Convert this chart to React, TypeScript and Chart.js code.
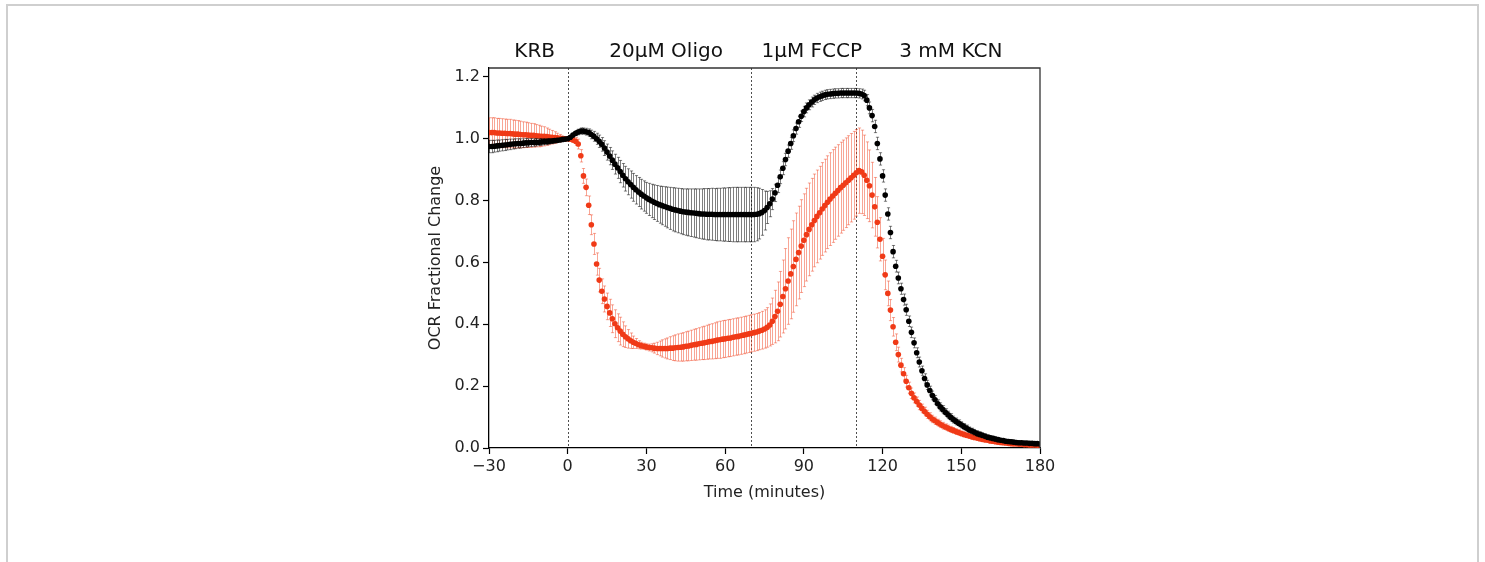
import React, { useEffect, useRef } from 'react';
import { Chart, registerables } from 'chart.js';

Chart.register(...registerables);

const times = [
  -30, -29, -28, -27, -26, -25, -24, -23, -22, -21, -20, -19, -18, -17, -16, -15, -14, -13, -12, -11,
  -10, -9, -8, -7, -6, -5, -4, -3, -2, -1, 0, 1, 2, 3, 4, 5, 6, 7, 8, 9,
  10, 11, 12, 13, 14, 15, 16, 17, 18, 19, 20, 21, 22, 23, 24, 25, 26, 27, 28, 29,
  30, 31, 32, 33, 34, 35, 36, 37, 38, 39, 40, 41, 42, 43, 44, 45, 46, 47, 48, 49,
  50, 51, 52, 53, 54, 55, 56, 57, 58, 59, 60, 61, 62, 63, 64, 65, 66, 67, 68, 69,
  70, 71, 72, 73, 74, 75, 76, 77, 78, 79, 80, 81, 82, 83, 84, 85, 86, 87, 88, 89,
  90, 91, 92, 93, 94, 95, 96, 97, 98, 99, 100, 101, 102, 103, 104, 105, 106, 107, 108, 109,
  110, 111, 112, 113, 114, 115, 116, 117, 118, 119, 120, 121, 122, 123, 124, 125, 126, 127, 128, 129,
  130, 131, 132, 133, 134, 135, 136, 137, 138, 139, 140, 141, 142, 143, 144, 145, 146, 147, 148, 149,
  150, 151, 152, 153, 154, 155, 156, 157, 158, 159, 160, 161, 162, 163, 164, 165, 166, 167, 168, 169,
  170, 171, 172, 173, 174, 175, 176, 177, 178, 179, 180,
];

const blackMean = [
  0.975, 0.975, 0.976, 0.977, 0.978, 0.979, 0.980, 0.981, 0.982, 0.983,
  0.984, 0.985, 0.985, 0.986, 0.987, 0.987, 0.988, 0.988, 0.989, 0.989,
  0.990, 0.991, 0.991, 0.992, 0.993, 0.994, 0.995, 0.996, 0.998, 0.999,
  1.000, 1.005, 1.012, 1.018, 1.022, 1.025, 1.025, 1.023, 1.020, 1.014,
  1.008, 1.000, 0.992, 0.982, 0.970, 0.957, 0.944, 0.931, 0.918, 0.906,
  0.894, 0.882, 0.871, 0.861, 0.852, 0.843, 0.835, 0.828, 0.821, 0.815,
  0.809, 0.804, 0.799, 0.795, 0.791, 0.787, 0.784, 0.781, 0.778, 0.775,
  0.772, 0.770, 0.768, 0.766, 0.764, 0.763, 0.762, 0.761, 0.760, 0.759,
  0.758, 0.757, 0.757, 0.756, 0.756, 0.756, 0.755, 0.755, 0.755, 0.755,
  0.755, 0.755, 0.755, 0.755, 0.755, 0.755, 0.755, 0.755, 0.755, 0.755,
  0.755, 0.755, 0.756, 0.758, 0.762, 0.768, 0.778, 0.790, 0.805, 0.825,
  0.850, 0.877, 0.905, 0.933, 0.960, 0.985, 1.010, 1.033, 1.055, 1.073,
  1.088, 1.100, 1.110, 1.119, 1.126, 1.132, 1.136, 1.139, 1.142, 1.144,
  1.145, 1.146, 1.147, 1.147, 1.148, 1.148, 1.148, 1.148, 1.148, 1.148,
  1.148, 1.147, 1.145, 1.140, 1.125, 1.100, 1.075, 1.040, 0.985, 0.935,
  0.880, 0.818, 0.757, 0.697, 0.635, 0.588, 0.550, 0.515, 0.480, 0.447,
  0.410, 0.374, 0.340, 0.308, 0.278, 0.250, 0.225, 0.204, 0.186, 0.170,
  0.156, 0.143, 0.133, 0.124, 0.115, 0.107, 0.099, 0.092, 0.086, 0.080,
  0.075, 0.069, 0.064, 0.059, 0.055, 0.051, 0.047, 0.044, 0.041, 0.038,
  0.035, 0.033, 0.031, 0.029, 0.027, 0.025, 0.024, 0.022, 0.021, 0.020,
  0.019, 0.018, 0.017, 0.017, 0.016, 0.016, 0.015, 0.015, 0.014, 0.014, 0.013,
];

const blackErr = [
  0.020, 0.020, 0.019, 0.019, 0.018, 0.018, 0.018, 0.017, 0.017, 0.016,
  0.016, 0.015, 0.015, 0.014, 0.014, 0.013, 0.013, 0.012, 0.012, 0.011,
  0.011, 0.010, 0.010, 0.009, 0.008, 0.007, 0.006, 0.005, 0.004, 0.002,
  0.000, 0.004, 0.006, 0.008, 0.009, 0.010, 0.010, 0.011, 0.012, 0.014,
  0.016, 0.018, 0.020, 0.022, 0.024, 0.026, 0.028, 0.030, 0.032, 0.034,
  0.036, 0.038, 0.040, 0.042, 0.044, 0.045, 0.046, 0.047, 0.048, 0.049,
  0.050, 0.052, 0.054, 0.056, 0.058, 0.060, 0.062, 0.064, 0.066, 0.068,
  0.070, 0.071, 0.072, 0.073, 0.074, 0.075, 0.076, 0.077, 0.078, 0.079,
  0.080, 0.081, 0.082, 0.083, 0.083, 0.084, 0.084, 0.085, 0.085, 0.086,
  0.086, 0.087, 0.087, 0.088, 0.088, 0.088, 0.088, 0.088, 0.088, 0.088,
  0.088, 0.088, 0.086, 0.082, 0.074, 0.063, 0.052, 0.042, 0.034, 0.028,
  0.024, 0.022, 0.021, 0.020, 0.020, 0.019, 0.019, 0.018, 0.018, 0.017,
  0.017, 0.016, 0.016, 0.016, 0.015, 0.015, 0.015, 0.015, 0.015, 0.015,
  0.015, 0.015, 0.015, 0.015, 0.015, 0.015, 0.015, 0.015, 0.015, 0.015,
  0.015, 0.015, 0.016, 0.017, 0.018, 0.019, 0.020, 0.020, 0.020, 0.020,
  0.020, 0.020, 0.020, 0.020, 0.020, 0.019, 0.019, 0.018, 0.018, 0.018,
  0.017, 0.017, 0.016, 0.016, 0.016, 0.015, 0.015, 0.015, 0.014, 0.014,
  0.014, 0.013, 0.013, 0.013, 0.012, 0.012, 0.012, 0.011, 0.011, 0.011,
  0.010, 0.010, 0.010, 0.009, 0.009, 0.009, 0.009, 0.008, 0.008, 0.008,
  0.008, 0.007, 0.007, 0.007, 0.007, 0.006, 0.006, 0.006, 0.006, 0.006,
  0.005, 0.005, 0.005, 0.005, 0.005, 0.005, 0.005, 0.004, 0.004, 0.004, 0.004,
];

const redMean = [
  1.020, 1.020, 1.020, 1.019, 1.019, 1.018, 1.018, 1.017, 1.017, 1.016,
  1.015, 1.015, 1.014, 1.013, 1.013, 1.012, 1.011, 1.011, 1.010, 1.009,
  1.008, 1.008, 1.007, 1.006, 1.005, 1.004, 1.003, 1.002, 1.001, 1.000,
  1.000, 0.999, 0.996, 0.992, 0.983, 0.945, 0.880, 0.843, 0.785, 0.722,
  0.660, 0.595, 0.543, 0.507, 0.482, 0.458, 0.437, 0.418, 0.402, 0.389,
  0.378, 0.368, 0.360, 0.353, 0.347, 0.342, 0.338, 0.334, 0.331, 0.329,
  0.327, 0.325, 0.324, 0.323, 0.322, 0.322, 0.322, 0.322, 0.322, 0.323,
  0.323, 0.324, 0.325, 0.326, 0.327, 0.329, 0.330, 0.332, 0.334, 0.335,
  0.337, 0.339, 0.340, 0.342, 0.344, 0.345, 0.347, 0.349, 0.350, 0.352,
  0.353, 0.355, 0.356, 0.358, 0.360, 0.361, 0.363, 0.365, 0.367, 0.369,
  0.371, 0.373, 0.375, 0.378, 0.381, 0.385, 0.390, 0.398, 0.410, 0.425,
  0.442, 0.465, 0.490, 0.515, 0.540, 0.563, 0.587, 0.610, 0.632, 0.653,
  0.672, 0.690, 0.707, 0.722, 0.736, 0.749, 0.761, 0.773, 0.784, 0.795,
  0.805, 0.815, 0.824, 0.833, 0.842, 0.850, 0.858, 0.866, 0.874, 0.882,
  0.890, 0.897, 0.893, 0.882, 0.866, 0.848, 0.818, 0.780, 0.730, 0.675,
  0.620, 0.560, 0.500, 0.446, 0.392, 0.342, 0.302, 0.268, 0.240, 0.216,
  0.195, 0.177, 0.162, 0.150, 0.139, 0.128, 0.118, 0.109, 0.101, 0.094,
  0.088, 0.082, 0.077, 0.072, 0.068, 0.064, 0.060, 0.057, 0.053, 0.050,
  0.047, 0.044, 0.041, 0.039, 0.036, 0.034, 0.032, 0.030, 0.028, 0.026,
  0.025, 0.023, 0.022, 0.020, 0.019, 0.018, 0.017, 0.016, 0.015, 0.014,
  0.013, 0.013, 0.012, 0.012, 0.011, 0.011, 0.010, 0.010, 0.010, 0.009, 0.009,
];

const redErr = [
  0.048, 0.048, 0.048, 0.047, 0.047, 0.047, 0.046, 0.046, 0.046, 0.045,
  0.045, 0.044, 0.043, 0.042, 0.041, 0.040, 0.039, 0.038, 0.036, 0.035,
  0.033, 0.031, 0.028, 0.025, 0.022, 0.019, 0.015, 0.012, 0.008, 0.004,
  0.000, 0.004, 0.008, 0.012, 0.016, 0.020, 0.024, 0.027, 0.030, 0.032,
  0.034, 0.036, 0.038, 0.040, 0.042, 0.043, 0.044, 0.045, 0.045, 0.045,
  0.045, 0.040, 0.035, 0.030, 0.025, 0.020, 0.016, 0.013, 0.011, 0.010,
  0.010, 0.011, 0.013, 0.016, 0.020, 0.024, 0.028, 0.031, 0.034, 0.037,
  0.040, 0.042, 0.044, 0.045, 0.046, 0.047, 0.048, 0.049, 0.050, 0.051,
  0.052, 0.053, 0.054, 0.055, 0.056, 0.057, 0.058, 0.059, 0.060, 0.060,
  0.060, 0.060, 0.060, 0.060, 0.060, 0.060, 0.060, 0.060, 0.060, 0.060,
  0.060, 0.060, 0.060, 0.060, 0.061, 0.062, 0.064, 0.068, 0.075, 0.085,
  0.095, 0.106, 0.118, 0.130, 0.140, 0.145, 0.148, 0.150, 0.150, 0.150,
  0.150, 0.150, 0.150, 0.150, 0.150, 0.150, 0.150, 0.150, 0.150, 0.150,
  0.150, 0.150, 0.149, 0.148, 0.147, 0.146, 0.145, 0.144, 0.143, 0.142,
  0.140, 0.138, 0.135, 0.130, 0.124, 0.116, 0.106, 0.095, 0.083, 0.070,
  0.058, 0.048, 0.040, 0.034, 0.030, 0.027, 0.024, 0.022, 0.020, 0.019,
  0.018, 0.017, 0.016, 0.015, 0.015, 0.014, 0.014, 0.013, 0.013, 0.012,
  0.012, 0.011, 0.011, 0.011, 0.010, 0.010, 0.010, 0.009, 0.009, 0.009,
  0.008, 0.008, 0.008, 0.008, 0.007, 0.007, 0.007, 0.007, 0.006, 0.006,
  0.006, 0.006, 0.006, 0.005, 0.005, 0.005, 0.005, 0.005, 0.005, 0.004,
  0.004, 0.004, 0.004, 0.004, 0.004, 0.004, 0.004, 0.003, 0.003, 0.003, 0.003,
];

const xTicks = [-30, 0, 30, 60, 90, 120, 150, 180];
const yTicks = [0, 0.2, 0.4, 0.6, 0.8, 1.0, 1.2];
const injectionTimes = [0, 70, 110];
const phaseLabels = ['KRB', '20μM Oligo', '1μM FCCP', '3 mM KCN'];
const phaseLabelCenters = [-12.6, 37.5, 93, 146];

const BLACK = '#000000';
const RED = '#f03a17';
const BLACK_ERR = 'rgba(0,0,0,0.5)';
const RED_ERR = 'rgba(240,58,23,0.45)';
const FONT = "'DejaVu Sans', sans-serif";

const errorSets = [
  { mean: blackMean, err: blackErr, color: BLACK_ERR },
  { mean: redMean, err: redErr, color: RED_ERR },
];

const errorBarPlugin = {
  id: 'errorBars',
  beforeDatasetDraw(chart: any, args: any) {
    const set = errorSets[args.index];
    if (!set) return;
    const { ctx, chartArea } = chart;
    const xs = chart.scales.x;
    const ys = chart.scales.y;
    ctx.save();
    ctx.beginPath();
    ctx.rect(chartArea.left, chartArea.top, chartArea.right - chartArea.left, chartArea.bottom - chartArea.top);
    ctx.clip();
    ctx.strokeStyle = set.color;
    ctx.lineWidth = 1;
    const cap = 1.6;
    for (let i = 0; i < times.length; i++) {
      const e = set.err[i];
      if (!(e > 0)) continue;
      const x = Math.round(xs.getPixelForValue(times[i])) + 0.5;
      const yl = ys.getPixelForValue(set.mean[i] - e);
      const yh = ys.getPixelForValue(set.mean[i] + e);
      ctx.beginPath();
      ctx.moveTo(x, yl);
      ctx.lineTo(x, yh);
      ctx.moveTo(x - cap, yl);
      ctx.lineTo(x + cap, yl);
      ctx.moveTo(x - cap, yh);
      ctx.lineTo(x + cap, yh);
      ctx.stroke();
    }
    ctx.restore();
  },
};

const decorPlugin = {
  id: 'decor',
  beforeDatasetsDraw(chart: any) {
    const { ctx, chartArea } = chart;
    const xs = chart.scales.x;
    ctx.save();
    ctx.strokeStyle = '#222';
    ctx.lineWidth = 0.8;
    ctx.setLineDash([2, 2]);
    injectionTimes.forEach((t) => {
      const x = Math.round(xs.getPixelForValue(t)) + 0.5;
      ctx.beginPath();
      ctx.moveTo(x, chartArea.top);
      ctx.lineTo(x, chartArea.bottom);
      ctx.stroke();
    });
    ctx.restore();
  },
  afterDraw(chart: any) {
    const { ctx, chartArea } = chart;
    const xs = chart.scales.x;
    ctx.save();
    ctx.strokeStyle = '#333';
    ctx.lineWidth = 1.3;
    ctx.beginPath();
    ctx.moveTo(chartArea.left, chartArea.top);
    ctx.lineTo(chartArea.right, chartArea.top);
    ctx.lineTo(chartArea.right, chartArea.bottom);
    ctx.stroke();
    ctx.fillStyle = '#111';
    ctx.font = `20px ${FONT}`;
    ctx.textAlign = 'center';
    ctx.textBaseline = 'alphabetic';
    phaseLabels.forEach((lab, i) => {
      ctx.fillText(lab, xs.getPixelForValue(phaseLabelCenters[i]), 57);
    });
    ctx.restore();
  },
};

export default function App() {
  const canvasRef = useRef<HTMLCanvasElement | null>(null);

  useEffect(() => {
    if (!canvasRef.current) return;
    Chart.defaults.font.family = FONT;
    const chart = new Chart(canvasRef.current, {
      type: 'scatter',
      data: {
        datasets: [
          {
            label: 'Control',
            data: times.map((t, i) => ({ x: t, y: blackMean[i] })),
            backgroundColor: BLACK,
            borderColor: BLACK,
            pointRadius: 2.8,
            pointBorderWidth: 0,
            showLine: false,
            clip: 0,
          },
          {
            label: 'Treated',
            data: times.map((t, i) => ({ x: t, y: redMean[i] })),
            backgroundColor: RED,
            borderColor: RED,
            pointRadius: 2.8,
            pointBorderWidth: 0,
            showLine: false,
            clip: 0,
          },
        ],
      },
      options: {
        animation: false,
        responsive: false,
        maintainAspectRatio: false,
        events: [],
        layout: { padding: { left: 426, right: 445, top: 68, bottom: 54 } },
        plugins: {
          legend: { display: false },
          tooltip: { enabled: false },
          title: { display: false },
        },
        scales: {
          x: {
            type: 'linear',
            min: -30,
            max: 180,
            afterBuildTicks: (s: any) => {
              s.ticks = xTicks.map((v) => ({ value: v }));
            },
            afterFit: (s: any) => {
              s.height = 60;
              s.paddingLeft = 0;
              s.paddingRight = 0;
            },
            ticks: {
              callback: (v: any) => (v < 0 ? '\u2212' + Math.abs(v) : String(v)),
              font: { size: 16 },
              color: '#222',
              padding: 3,
              maxRotation: 0,
              autoSkip: false,
            },
            grid: { drawOnChartArea: false, drawTicks: true, tickLength: 6, color: '#000', tickWidth: 1.2 },
            border: { display: true, color: '#000', width: 1.3 },
            title: {
              display: true,
              text: 'Time (minutes)',
              font: { size: 16 },
              color: '#222',
              padding: { top: 0, bottom: 6 },
            },
          },
          y: {
            type: 'linear',
            min: 0,
            max: 1.229,
            afterBuildTicks: (s: any) => {
              s.ticks = yTicks.map((v) => ({ value: v }));
            },
            afterFit: (s: any) => {
              s.width = 63;
              s.paddingTop = 0;
              s.paddingBottom = 0;
            },
            ticks: {
              callback: (v: any) => Number(v).toFixed(1),
              font: { size: 16 },
              color: '#222',
              padding: 3,
            },
            grid: { drawOnChartArea: false, drawTicks: true, tickLength: 6, color: '#000', tickWidth: 1.2 },
            border: { display: true, color: '#000', width: 1.3 },
            title: {
              display: true,
              text: 'OCR Fractional Change',
              font: { size: 16 },
              color: '#222',
              padding: { top: 0, bottom: 0 },
            },
          },
        },
      },
      plugins: [errorBarPlugin, decorPlugin],
    } as any);
    return () => chart.destroy();
  }, []);

  return (
    <div>
      <div
        style={{
          position: 'absolute',
          left: 6,
          top: 4,
          width: 1473,
          height: 640,
          border: '2px solid #cfcfcf',
          boxSizing: 'border-box',
          background: '#fff',
        }}
      />
      <canvas
        ref={canvasRef}
        width={1485}
        height={562}
        style={{ position: 'absolute', left: 0, top: 0, width: 1485, height: 562 }}
      />
    </div>
  );
}
